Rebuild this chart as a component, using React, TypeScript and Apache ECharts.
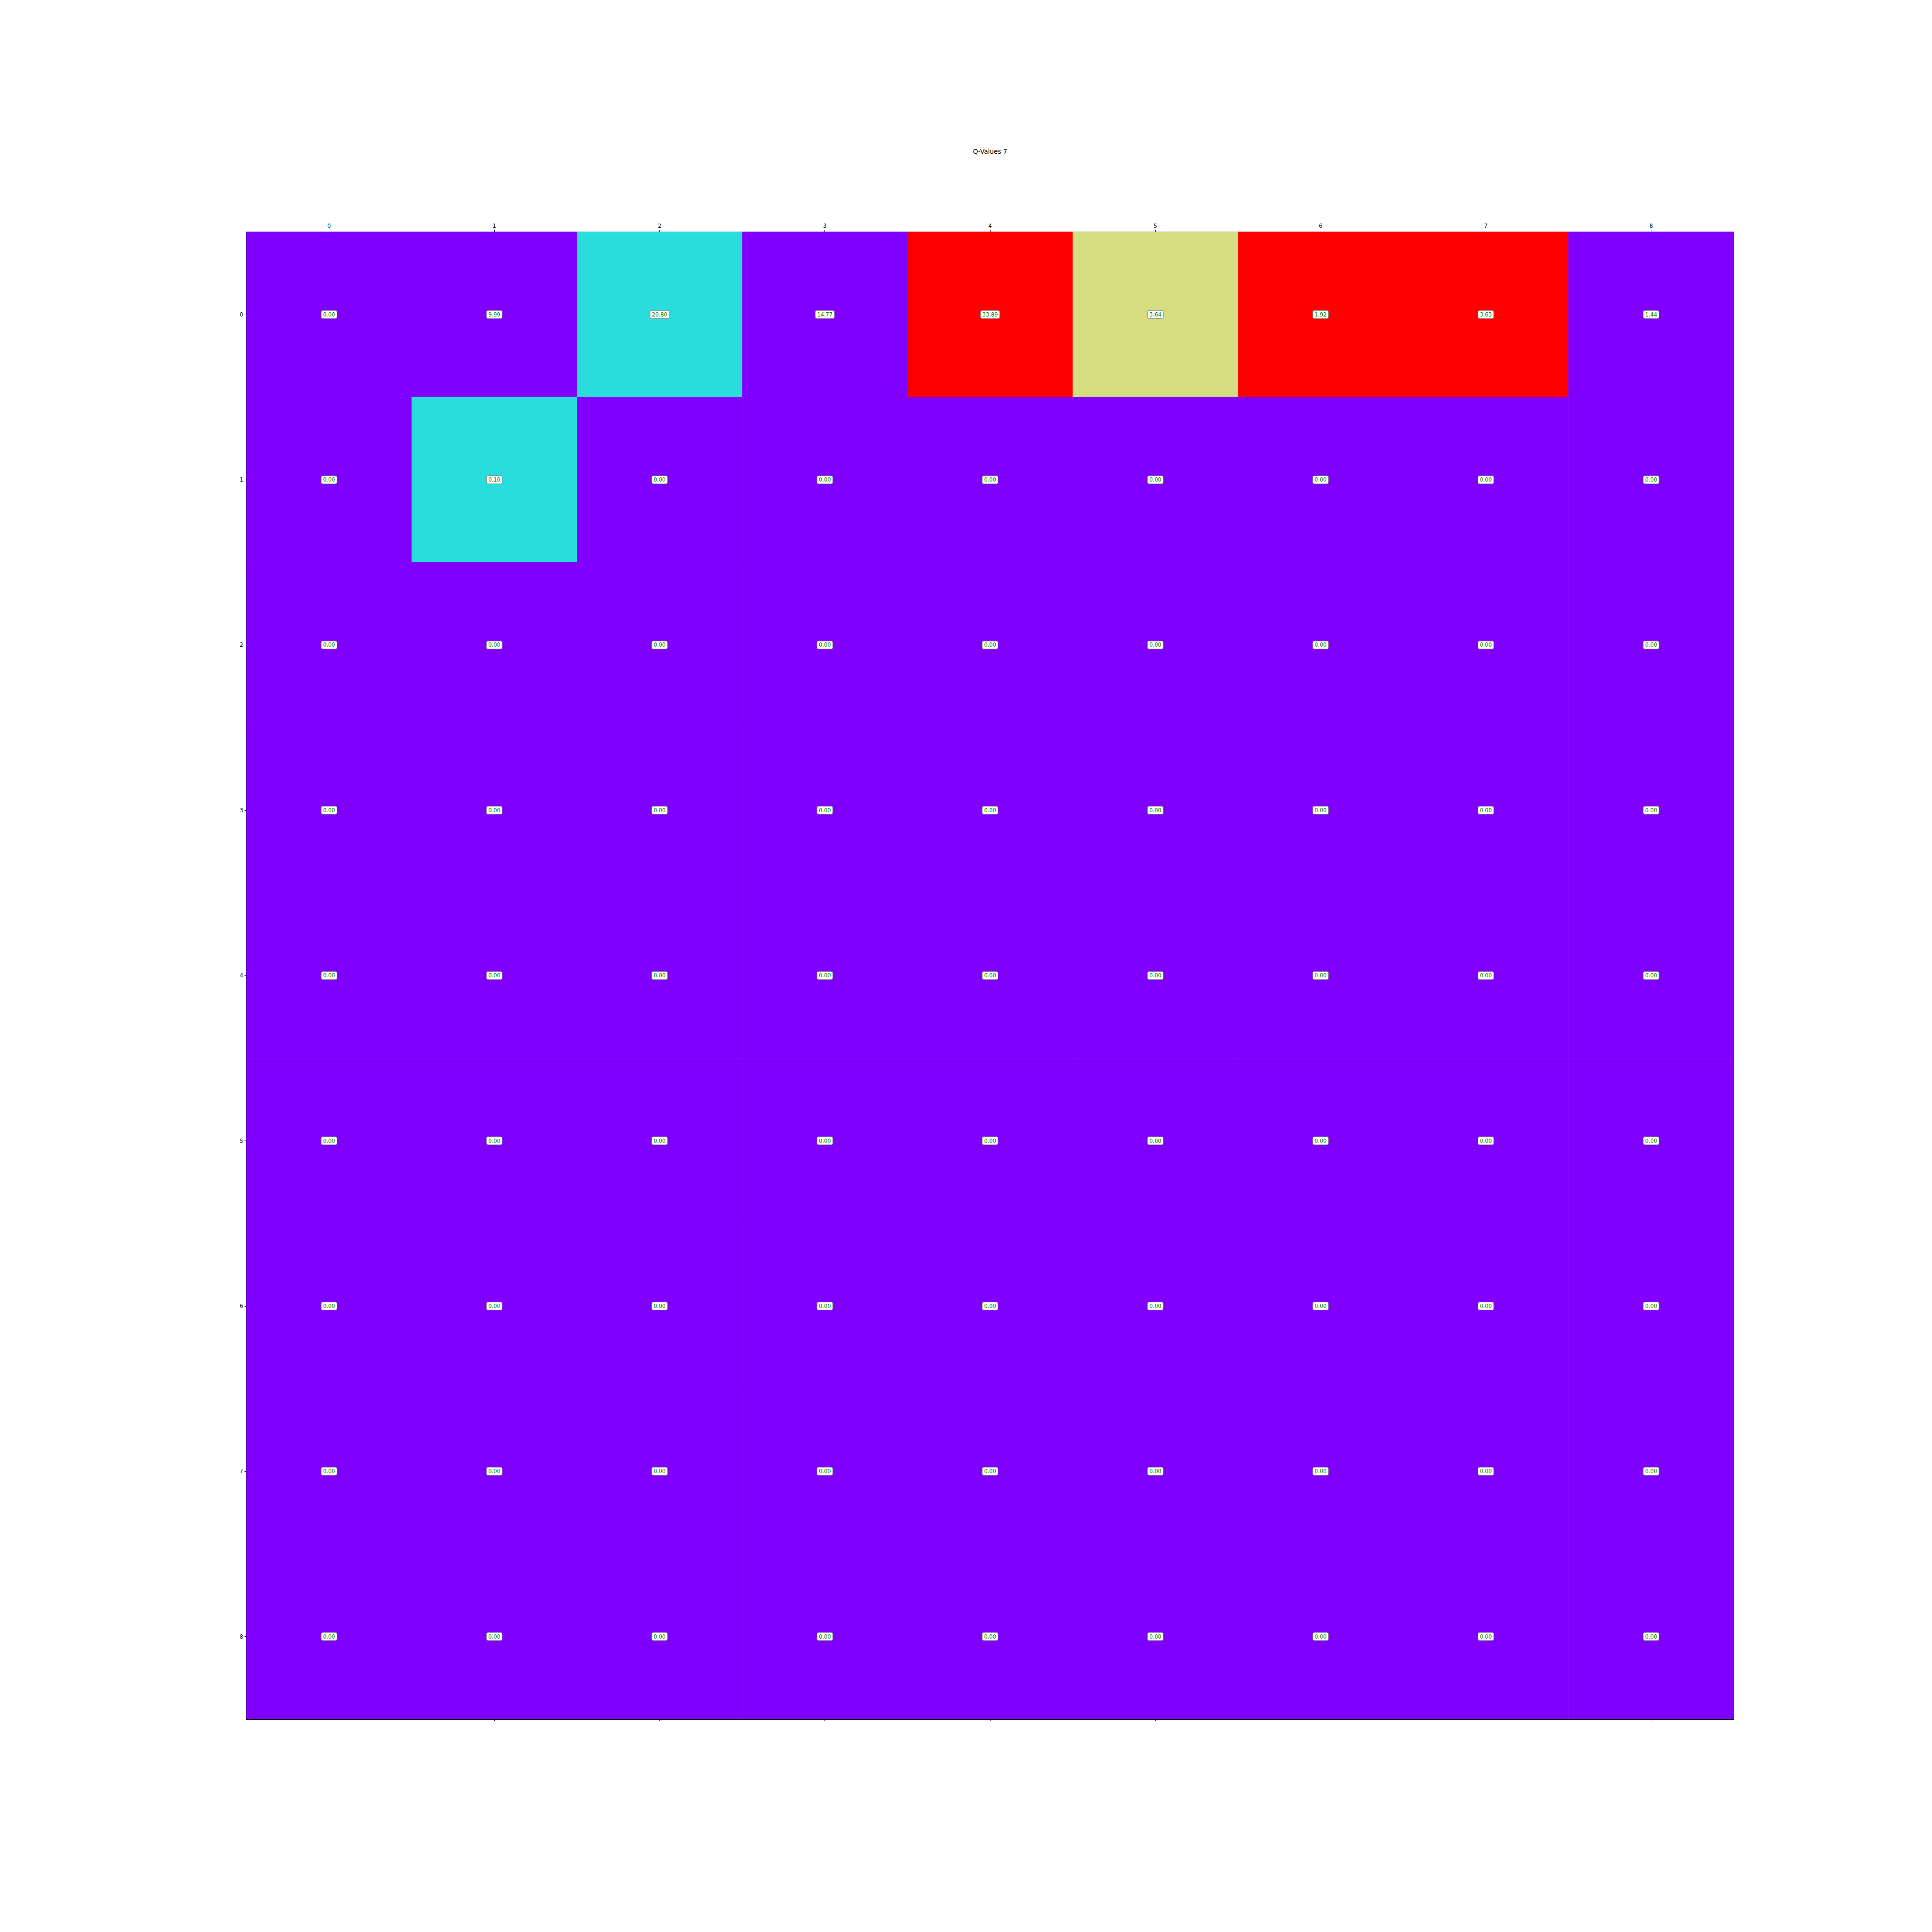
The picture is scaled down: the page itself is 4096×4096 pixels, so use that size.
import React, { useEffect, useRef } from "react";
import * as echarts from "echarts";

const xCategories = ["0", "1", "2", "3", "4", "5", "6", "7", "8"];
const yCategories = ["0", "1", "2", "3", "4", "5", "6", "7", "8"];

// Q-values shown as text labels (row by row)
const qRow0 = [0.0, 9.99, 20.8, 14.77, 33.89, 3.64, 1.92, 3.63, 1.44];
const qRow1 = [0.0, 0.1, 0.0, 0.0, 0.0, 0.0, 0.0, 0.0, 0.0];
const qRow2 = [0, 0, 0, 0, 0, 0, 0, 0, 0];
const qRow3 = [0, 0, 0, 0, 0, 0, 0, 0, 0];
const qRow4 = [0, 0, 0, 0, 0, 0, 0, 0, 0];
const qRow5 = [0, 0, 0, 0, 0, 0, 0, 0, 0];
const qRow6 = [0, 0, 0, 0, 0, 0, 0, 0, 0];
const qRow7 = [0, 0, 0, 0, 0, 0, 0, 0, 0];
const qRow8 = [0, 0, 0, 0, 0, 0, 0, 0, 0];
const qValues = [qRow0, qRow1, qRow2, qRow3, qRow4, qRow5, qRow6, qRow7, qRow8];

// Cell colour levels (rainbow colormap, 0..3)
const cRow0 = [0, 0, 1, 0, 3, 2, 3, 3, 0];
const cRow1 = [0, 1, 0, 0, 0, 0, 0, 0, 0];
const cRow2 = [0, 0, 0, 0, 0, 0, 0, 0, 0];
const cRow3 = [0, 0, 0, 0, 0, 0, 0, 0, 0];
const cRow4 = [0, 0, 0, 0, 0, 0, 0, 0, 0];
const cRow5 = [0, 0, 0, 0, 0, 0, 0, 0, 0];
const cRow6 = [0, 0, 0, 0, 0, 0, 0, 0, 0];
const cRow7 = [0, 0, 0, 0, 0, 0, 0, 0, 0];
const cRow8 = [0, 0, 0, 0, 0, 0, 0, 0, 0];
const colorLevels = [cRow0, cRow1, cRow2, cRow3, cRow4, cRow5, cRow6, cRow7, cRow8];

const levelColors = ["#8000ff", "#2adddd", "#d4dd7f", "#ff0000"];

const titleText = "Q-Values 7";

export default function App() {
  const ref = useRef<HTMLDivElement>(null);

  useEffect(() => {
    document.body.style.margin = "0";
    if (!ref.current) return;
    const chart = echarts.init(ref.current, null, { renderer: "svg" });

    const data: any[] = [];
    for (let r = 0; r < 9; r++) {
      for (let c = 0; c < 9; c++) {
        data.push([c, r, colorLevels[r][c], qValues[r][c]]);
      }
    }

    const font = "DejaVu Sans";
    const gridLeft = 522.5;
    const gridTop = 491.6;
    const gridSize = 3153.2;

    const axisCommon = {
      type: "category" as const,
      boundaryGap: true,
      axisLine: { show: true, lineStyle: { color: "#000", width: 1 } },
      axisTick: { show: true, alignWithLabel: true, length: 4, lineStyle: { color: "#000", width: 1 } },
      splitLine: { show: false },
    };

    chart.setOption({
      animation: false,
      backgroundColor: "#fff",
      title: {
        text: titleText,
        left: gridLeft + gridSize / 2,
        textAlign: "center",
        top: 314,
        padding: 0,
        textStyle: { fontFamily: font, fontSize: 13.65, fontWeight: "normal", color: "#000" },
      },
      grid: {
        left: gridLeft,
        top: gridTop,
        width: gridSize,
        height: gridSize,
        show: true,
        borderColor: "#000",
        borderWidth: 1,
        backgroundColor: "transparent",
      },
      xAxis: [
        {
          ...axisCommon,
          data: xCategories,
          position: "top",
          axisLabel: { show: true, margin: 7, fontFamily: font, fontSize: 11.4, color: "#000" },
        },
        {
          ...axisCommon,
          data: xCategories,
          position: "bottom",
          axisLabel: { show: false },
        },
      ],
      yAxis: [
        {
          ...axisCommon,
          data: yCategories,
          inverse: true,
          position: "left",
          axisLabel: { show: true, margin: 7, fontFamily: font, fontSize: 11.4, color: "#000" },
        },
      ],
      visualMap: {
        type: "piecewise",
        show: false,
        dimension: 2,
        seriesIndex: 0,
        pieces: levelColors.map((col, i) => ({ value: i, color: col })),
      },
      series: [
        {
          type: "heatmap",
          xAxisIndex: 0,
          yAxisIndex: 0,
          data,
          itemStyle: { borderWidth: 0 },
          label: {
            show: true,
            formatter: (p: any) => Number(p.value[3]).toFixed(2),
            fontFamily: font,
            fontSize: 11.4,
            color: "#008000",
            backgroundColor: "#fff",
            borderColor: "#808080",
            borderWidth: 1,
            borderRadius: 3,
            padding: [3, 3.5, 2, 3.5],
          },
          emphasis: { disabled: true },
        },
      ],
    });

    return () => chart.dispose();
  }, []);

  return <div ref={ref} style={{ width: 4096, height: 4096 }} />;
}
